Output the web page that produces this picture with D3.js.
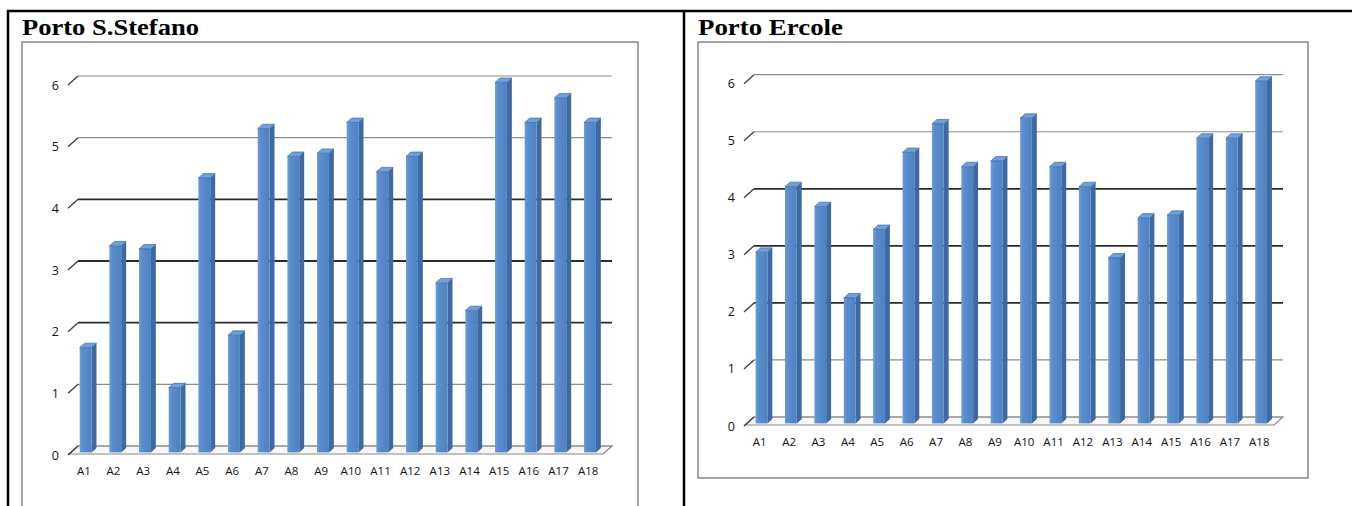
<!DOCTYPE html>
<html>
<head>
<meta charset="utf-8">
<script src="https://cdn.jsdelivr.net/npm/d3@7"></script>
<style>
  html, body { margin: 0; padding: 0; background: #fff; }
  svg { display: block; }
</style>
</head>
<body>
<svg id="chart" width="1355" height="506"></svg>
<script>
// Categories shared by both harbours
const categories = ["A1","A2","A3","A4","A5","A6","A7","A8","A9","A10",
                    "A11","A12","A13","A14","A15","A16","A17","A18"];

// Values per station
const santoStefanoValues = [1.7, 3.35, 3.3, 1.05, 4.45, 1.9, 5.25, 4.8, 4.85, 5.35,
                            4.55, 4.8, 2.75, 2.3, 6.0, 5.35, 5.75, 5.35];
const ercoleValues = [3.0, 4.15, 3.8, 2.2, 3.4, 4.75, 5.25, 4.5, 4.6, 5.35,
                      4.5, 4.15, 2.9, 3.6, 3.65, 5.0, 5.0, 6.0];

// Y axis tick labels
const yTicks = [0, 1, 2, 3, 4, 5, 6];
const panelTitles = ["Porto S.Stefano", "Porto Ercole"];

const svg = d3.select("#chart");

// Bar gradient (front face)
const defs = svg.append("defs");
const grad = defs.append("linearGradient").attr("id", "barFront")
  .attr("x1", "0").attr("x2", "1").attr("y1", "0").attr("y2", "0");
grad.append("stop").attr("offset", "0").attr("stop-color", "#6c9cd9");
grad.append("stop").attr("offset", "0.25").attr("stop-color", "#5a8dcd");
grad.append("stop").attr("offset", "1").attr("stop-color", "#4d82c3");

// Table rules framing the two cells
const rules = svg.append("g").attr("stroke", "#000").attr("stroke-width", 2.5);
rules.append("line").attr("x1", 7).attr("x2", 1352).attr("y1", 11).attr("y2", 11);
rules.append("line").attr("x1", 8).attr("x2", 8).attr("y1", 10).attr("y2", 506);
rules.append("line").attr("x1", 684).attr("x2", 684).attr("y1", 10).attr("y2", 506);

const panels = [
  { title: panelTitles[0], values: santoStefanoValues,
    frame: { x: 22, y: 42, w: 616, h: 520 },
    x0: 69, x1: 603, yBack0: 446, yBackMax: 76, titleX: 22, titleW: 177 },
  { title: panelTitles[1], values: ercoleValues,
    frame: { x: 698, y: 42, w: 610, h: 436 },
    x0: 745, x1: 1274, yBack0: 417, yBackMax: 74.7, titleX: 698, titleW: 145 }
];

// Depth offset of the 3D box (front -> back)
const DX = 9, DY = -8;
const F1 = 0.2, F2 = 0.75; // depth range occupied by the columns
const emphasized = new Set([2, 3, 4]);

panels.forEach(p => {
  const g = svg.append("g");

  // Chart area border
  g.append("rect")
    .attr("x", p.frame.x).attr("y", p.frame.y)
    .attr("width", p.frame.w).attr("height", p.frame.h)
    .attr("fill", "#fff").attr("stroke", "#868686").attr("stroke-width", 1.5);

  // Title
  g.append("text")
    .attr("x", p.titleX).attr("y", 35)
    .attr("font-family", "'Liberation Serif', 'Times New Roman', serif")
    .attr("font-weight", "bold").attr("font-size", 24)
    .attr("textLength", p.titleW).attr("lengthAdjust", "spacingAndGlyphs")
    .attr("fill", "#000")
    .text(p.title);

  const yBack = d3.scaleLinear().domain([0, 6]).range([p.yBack0, p.yBackMax]);
  const yFront = d3.scaleLinear().domain([0, 6]).range([p.yBack0 - DY, p.yBackMax - DY]);
  const x = d3.scaleBand().domain(categories).range([p.x0, p.x1])
    .paddingInner(0.6).paddingOuter(0.3);
  const bw = x.bandwidth();

  // Floor
  const yF0 = yFront(0);
  g.append("polygon")
    .attr("points", [[p.x0, yF0], [p.x1, yF0], [p.x1 + DX, yF0 + DY], [p.x0 + DX, yF0 + DY]].join(" "))
    .attr("fill", "#f7f7f7").attr("stroke", "#8a8a8a").attr("stroke-width", 1.2);

  // Gridlines on the back wall and slanted ticks at the left
  const grid = g.append("g");
  grid.selectAll("line.grid").data(yTicks).join("line")
    .attr("class", "grid")
    .attr("x1", p.x0 + DX).attr("x2", p.x1 + DX)
    .attr("y1", d => yBack(d)).attr("y2", d => yBack(d))
    .attr("stroke", d => emphasized.has(d) ? "#2b2b2b" : "#8c8c8c")
    .attr("stroke-width", d => emphasized.has(d) ? 1.8 : 1.2);
  grid.selectAll("line.tick").data(yTicks).join("line")
    .attr("class", "tick")
    .attr("x1", p.x0 - 1).attr("x2", p.x0 + DX)
    .attr("y1", d => yFront(d) + 1).attr("y2", d => yBack(d))
    .attr("stroke", "#404040").attr("stroke-width", 1.4);

  // Y axis labels
  const yAxis = d3.axisLeft(yFront).tickValues(yTicks).tickSize(0).tickPadding(10)
    .tickFormat(d3.format("d"));
  const ya = g.append("g").attr("transform", `translate(${p.x0},1)`).call(yAxis);
  ya.select(".domain").remove();
  ya.selectAll("text").attr("font-family", "'Open Sans', sans-serif")
    .attr("font-size", 12.5).attr("fill", "#111");

  // X axis labels
  const xAxis = d3.axisBottom(x).tickSize(0).tickPadding(0);
  const xa = g.append("g").attr("transform", `translate(0,${yF0 + 13})`).call(xAxis);
  xa.select(".domain").remove();
  xa.selectAll("text").attr("font-family", "'Open Sans', sans-serif")
    .attr("font-size", 11.5).attr("fill", "#111");

  // 3D columns
  const bars = g.append("g").selectAll("g.bar")
    .data(categories.map((c, i) => ({ c, v: p.values[i] })))
    .join("g").attr("class", "bar");

  bars.each(function(d) {
    const b = d3.select(this);
    const xl = x(d.c);
    const yt = yFront(d.v);
    const fx = xl + DX * F1, bx = xl + DX * F2;
    const fyT = yt + DY * F1, byT = yt + DY * F2;
    const fyB = yF0 + DY * F1, byB = yF0 + DY * F2;

    // side face
    b.append("polygon")
      .attr("points", [[fx + bw, fyT], [bx + bw, byT], [bx + bw, byB], [fx + bw, fyB]].join(" "))
      .attr("fill", "#3d6aa3");
    // front face
    b.append("rect")
      .attr("x", fx).attr("y", fyT).attr("width", bw).attr("height", fyB - fyT)
      .attr("fill", "url(#barFront)");
    // top face
    b.append("polygon")
      .attr("points", [[fx, fyT], [fx + bw, fyT], [bx + bw, byT], [bx, byT]].join(" "))
      .attr("fill", "#6f9fdc").attr("stroke", "#2f5a92").attr("stroke-width", 0.6);
  });
});
</script>
</body>
</html>
